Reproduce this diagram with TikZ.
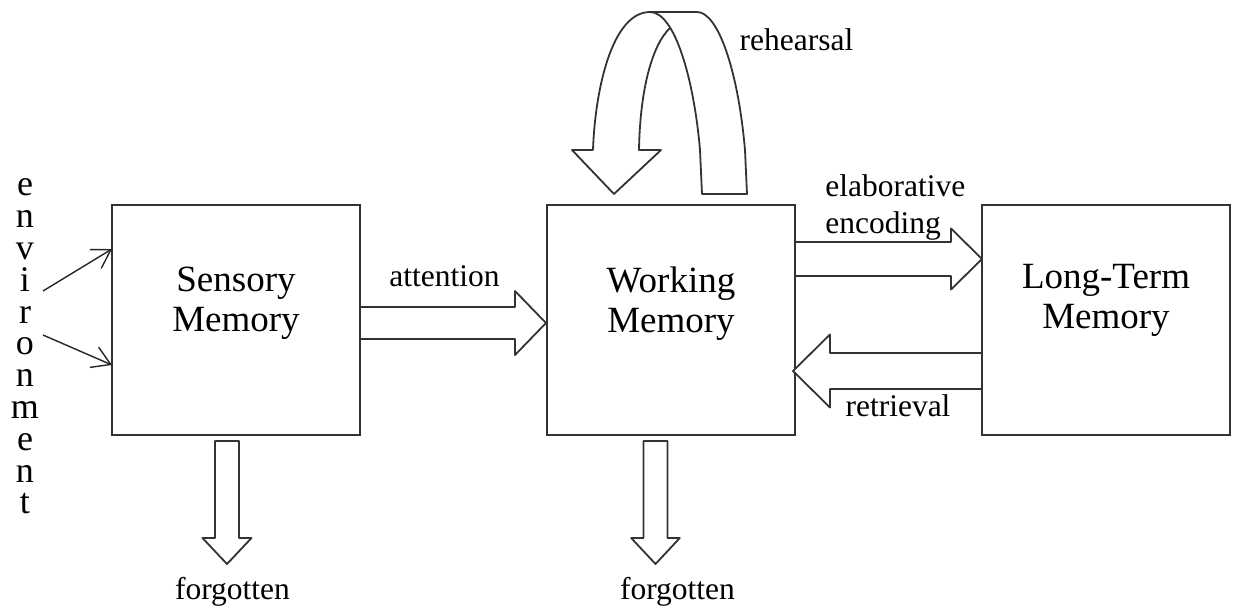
\documentclass[tikz,border=0pt]{standalone}
\usepackage{fontspec}
\setmainfont{Liberation Serif}
\usepackage{tikz}
\usetikzlibrary{arrows.meta, positioning, calc}
\tikzstyle{memory} = [rectangle, minimum width=124pt, minimum height=115pt, draw=black!80, line width=0.9pt, outer sep=0pt, fill=white]
\tikzstyle{boxlabel} = [align=center, inner sep=0pt, font=\fontsize{18.5}{20}\selectfont]
\tikzstyle{small} = [anchor=base, inner sep=0pt, font=\fontsize{15.75}{17}\selectfont]
\tikzstyle{envtext} = [anchor=north, align=center, inner sep=0pt, font=\fontsize{18}{15.9}\selectfont]
\tikzstyle{hollow} = [draw=black!80, line width=0.9pt, fill=white, line join=round]
\tikzstyle{envarrow} = [draw=black!85, line width=0.7pt, -{Straight Barb[length=9pt, width=11pt]}]
% start, angle, length, head length, half shaft, half head
\newcommand{\fatarrow}[6]{\draw[hollow, shift={#1}, rotate=#2] (0,-#5) -- ({#3-#4},-#5) -- ({#3-#4},-#6) -- (#3,0) -- ({#3-#4},#6) -- ({#3-#4},#5) -- (0,#5) -- cycle;}

\begin{document}
\begin{tikzpicture}[x=0.5pt, y=-0.5pt, node distance=217.5pt]
\useasboundingbox (0,0) rectangle (1233,607);
\node (sm) [memory] at (236,320) {};
\node (wm) [memory, right of=sm] {};
\node (ltm) [memory, right of=wm] {};
\node (smtext) [boxlabel] at ([yshift=8.4pt]sm.center) {Sensory\\Memory};
\node (wmtext) [boxlabel] at ([yshift=8.4pt]wm.center) {Working\\Memory};
\node (ltmtext) [boxlabel] at ([yshift=9.6pt]ltm.center) {Long-Term\\Memory};

% environment
\node (env) [envtext] at (25,178.5) {e\\n\\v\\i\\r\\o\\n\\m\\e\\n\\t};
\coordinate (envup) at (43,291);
\coordinate (envdown) at (43,335);
\draw [envarrow] (envup) -- ($(sm.west)+(0,-71)$);
\draw [envarrow] (envdown) -- ($(sm.west)+(0,45)$);

% labels
\node (att) [small] at (444.5,286.7) {attention};
\node (elab) [small, anchor=base west] at (825,196.7) {elaborative};
\node (enc) [small, anchor=base west] at (825,233.3) {encoding};
\node (ret) [small] at (898,416.7) {retrieval};
\node (reh) [small] at (796.5,50) {rehearsal};
\node (forg1) [small] at (232.5,599) {forgotten};
\node (forg2) [small] at (677.5,599) {forgotten};

% block arrows
\fatarrow{($(sm.east)+(0,3)$)}{0}{186}{31}{16}{32}
\fatarrow{($(wm.east)+(0,-61)$)}{0}{187}{31}{17}{30.5}
\fatarrow{($(ltm.west)+(0,51)$)}{180}{189}{37}{18}{36.5}
\fatarrow{($(sm.south)+(-9,6)$)}{-90}{123}{26}{12}{24.5}
\fatarrow{($(wm.south)+(-15.5,6)$)}{-90}{123}{26}{12}{24.3}

% rehearsal loop
\draw [hollow] (593,150) .. controls (595,90) and (612,12) .. (650,12) -- (697,12) .. controls (718,12) and (738,70) .. (745,150) -- (747,194) -- (702,194) -- (700,150) .. controls (694,80) and (675,12) .. (650,12);
\draw [hollow, fill=none] (593,150) -- (572,150) -- (614,194) -- (661,150) -- (639,150) .. controls (640,90) and (652,45) .. (670,28);
\end{tikzpicture}
\end{document}
